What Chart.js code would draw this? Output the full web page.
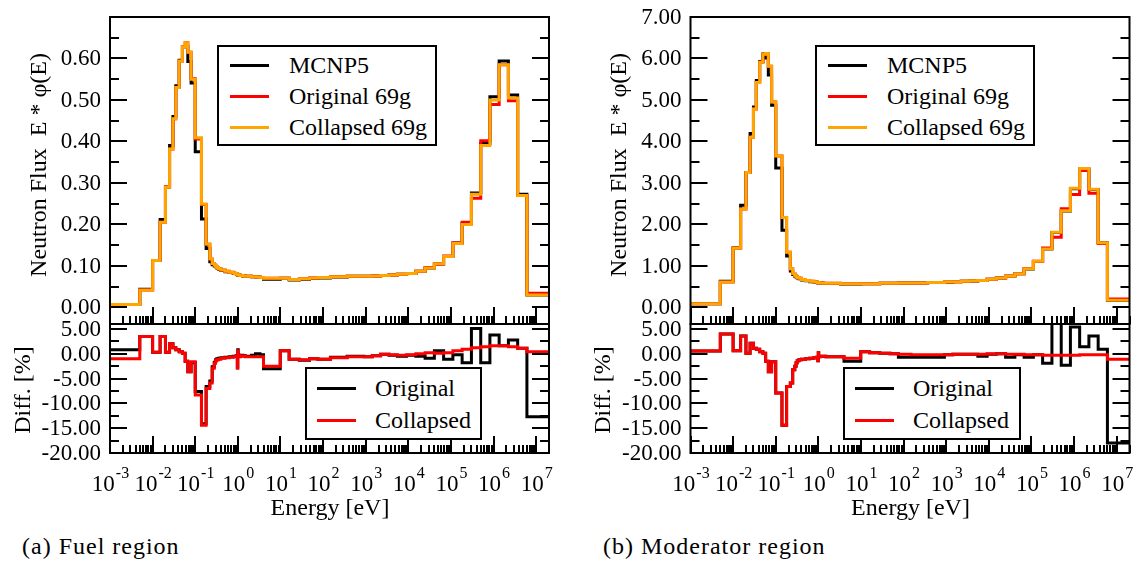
<!DOCTYPE html>
<html>
<head>
<meta charset="utf-8">
<script src="https://cdn.jsdelivr.net/npm/chart.js@4.4.0/dist/chart.umd.min.js"></script>
<style>
  body { margin: 0; background: #fff; }
  #fig { position: relative; width: 1137px; height: 563px; overflow: hidden; background: #fff;
         font-family: 'Liberation Serif', 'Times New Roman', serif; color: #000; }
  #fig canvas { position: absolute; }
  .txt { position: absolute; white-space: pre; font-size: 24px; line-height: 1; transform: translate(-50%, -50%); }
  .ytitle { transform: translate(-50%, -50%) rotate(-90deg); }
  .caption { position: absolute; white-space: pre; font-size: 24px; line-height: 1; transform: translateY(-50%); letter-spacing: 1px; }
  .legend { position: absolute; border: 2px solid #000; background: #fff; box-sizing: border-box; }
  .legend .ln { position: absolute; height: 3px; }
  .legend .lb { position: absolute; white-space: pre; font-size: 24px; line-height: 1; transform: translateY(-50%); }
</style>
</head>
<body>
<div id="fig"></div>
<script>
// WIMS-type 69 group boundaries [eV], top group carried out to the axis end
const energyEdges = [
  1e-5, 0.005, 0.01, 0.015, 0.02, 0.025, 0.03, 0.035, 0.042, 0.05,
  0.058, 0.067, 0.08, 0.1, 0.14, 0.18, 0.22, 0.25, 0.28, 0.3,
  0.32, 0.35, 0.4, 0.5, 0.625, 0.78, 0.85, 0.91, 0.95, 0.972,
  0.996, 1.02, 1.045, 1.071, 1.097, 1.123, 1.15, 1.3, 1.5, 2.1,
  2.6, 3.3, 4.0, 9.877, 15.968, 27.7, 48.052, 75.501, 148.73, 367.26,
  906.9, 1425.1, 2239.5, 3519.1, 5530, 9118, 1.503e4, 2.479e4, 4.085e4, 6.734e4,
  1.11e5, 1.83e5, 3.025e5, 5.0e5, 8.21e5, 1.353e6, 2.231e6, 3.679e6, 6.0655e6, 2.0e7
];

const seriesNames = ['MCNP5', 'Original 69g', 'Collapsed 69g'];
const seriesColors = ['#000000', '#ff0000', '#ffa500'];
const diffNames = ['Original', 'Collapsed'];
const diffColors = ['#000000', '#ff0000'];
const xDecades = [-3, -2, -1, 0, 1, 2, 3, 4, 5, 6, 7];

// fuel region, E*phi(E)
const fuelMCNP = [
  0.007, 0.0435, 0.113, 0.212, 0.291, 0.390, 0.460, 0.534, 0.596, 0.628,
  0.629, 0.593, 0.541, 0.375, 0.213, 0.142, 0.110, 0.103, 0.100, 0.098,
  0.095, 0.092, 0.089, 0.086, 0.084, 0.082, 0.082, 0.081, 0.080, 0.078,
  0.079, 0.079, 0.078, 0.078, 0.078, 0.077, 0.077, 0.076, 0.075, 0.074,
  0.073, 0.072, 0.068, 0.070, 0.066, 0.068, 0.070, 0.071, 0.073, 0.075,
  0.075, 0.076, 0.077, 0.078, 0.080, 0.082, 0.087, 0.095, 0.105, 0.123,
  0.155, 0.202, 0.276, 0.395, 0.508, 0.594, 0.512, 0.273, 0.030
];
const fuelOrig = [
  0.0069, 0.042, 0.113, 0.205, 0.290, 0.382, 0.455, 0.530, 0.594, 0.628,
  0.638, 0.615, 0.551, 0.406, 0.248, 0.152, 0.116, 0.106, 0.102, 0.099,
  0.096, 0.093, 0.090, 0.087, 0.085, 0.083, 0.082, 0.081, 0.080, 0.080,
  0.078, 0.079, 0.078, 0.078, 0.078, 0.077, 0.077, 0.076, 0.075, 0.074,
  0.073, 0.072, 0.070, 0.070, 0.067, 0.069, 0.071, 0.072, 0.074, 0.075,
  0.075, 0.076, 0.077, 0.078, 0.080, 0.082, 0.087, 0.096, 0.104, 0.124,
  0.155, 0.205, 0.263, 0.402, 0.489, 0.585, 0.498, 0.270, 0.034
];
const fuelColl = [
  0.007, 0.042, 0.113, 0.205, 0.290, 0.382, 0.455, 0.530, 0.594, 0.628,
  0.638, 0.615, 0.550, 0.409, 0.249, 0.153, 0.117, 0.106, 0.102, 0.099,
  0.096, 0.093, 0.090, 0.087, 0.085, 0.083, 0.082, 0.081, 0.080, 0.080,
  0.079, 0.079, 0.078, 0.078, 0.078, 0.077, 0.077, 0.076, 0.075, 0.074,
  0.073, 0.072, 0.070, 0.070, 0.067, 0.069, 0.071, 0.072, 0.074, 0.075,
  0.075, 0.076, 0.077, 0.078, 0.080, 0.082, 0.087, 0.095, 0.105, 0.123,
  0.154, 0.200, 0.273, 0.390, 0.500, 0.585, 0.505, 0.270, 0.030
];
// fuel region, relative difference to MCNP5 [%]
const fuelDiffOrig = [
  0.8, 3.5, 0.3, 3.5, 0.3, 2.0, 1.2, 0.8, 0.4, 0.1,
  -1.5, -3.6, -1.8, -7.6, -14.1, -6.6, -5.5, -2.6, -1.7, -1.2,
  -1.0, -0.9, -0.8, -0.7, -0.6, -0.5, -0.5, -0.4, -0.4, -2.7,
  0.8, -0.2, -0.3, -0.3, -0.4, -0.5, -0.3, -0.4, -0.5, -0.3,
  0.0, -0.2, -3.0, 0.6, -1.1, -1.3, -1.0, -1.1, -0.7, -0.5,
  -0.6, -0.4, -0.1, -0.3, -0.5, -0.3, -0.5, -0.9, 0.6, -1.1,
  -0.2, -1.8, 5.1, -1.8, 3.8, 1.6, 2.8, 1.1, -12.7
];
const fuelDiffColl = [
  -1.0, 3.5, 0.3, 3.5, 0.3, 2.0, 1.2, 0.8, 0.4, 0.1,
  -1.5, -3.6, -1.6, -8.3, -14.4, -7.0, -5.9, -2.9, -1.9, -1.4,
  -1.2, -1.1, -0.9, -0.8, -0.7, -0.6, -0.6, -0.5, -0.5, -2.9,
  0.6, -0.3, -0.4, -0.3, -0.5, -0.6, -0.4, -0.5, -0.6, -0.6,
  -0.6, -0.6, -2.5, 0.6, -1.1, -1.2, -1.0, -1.1, -0.8, -0.6,
  -0.6, -0.4, -0.1, -0.2, -0.3, -0.2, 0.0, 0.2, 0.1, 0.2,
  0.6, 0.9, 1.2, 1.4, 1.6, 1.6, 1.4, 1.1, 0.4
];

// moderator region, E*phi(E)
const modMCNP = [
  0.09, 0.63, 1.44, 2.46, 3.25, 4.19, 4.83, 5.47, 5.93, 6.11,
  6.01, 5.60, 4.87, 3.36, 1.86, 1.24, 0.875, 0.795, 0.75, 0.73,
  0.71, 0.69, 0.66, 0.64, 0.62, 0.615, 0.605, 0.605, 0.595, 0.59,
  0.60, 0.597, 0.587, 0.587, 0.587, 0.587, 0.587, 0.577, 0.577, 0.577,
  0.577, 0.567, 0.565, 0.572, 0.571, 0.58, 0.58, 0.589, 0.589, 0.599,
  0.609, 0.619, 0.629, 0.639, 0.649, 0.68, 0.71, 0.749, 0.809, 0.928,
  1.108, 1.406, 1.805, 2.323, 2.861, 3.343, 2.844, 1.557, 0.168
];
const modOrig = [
  0.09, 0.61, 1.43, 2.37, 3.25, 4.10, 4.78, 5.42, 5.91, 6.10,
  6.12, 5.81, 4.95, 3.65, 2.17, 1.33, 0.93, 0.82, 0.77, 0.74,
  0.72, 0.70, 0.67, 0.65, 0.63, 0.62, 0.61, 0.61, 0.60, 0.60,
  0.60, 0.60, 0.59, 0.59, 0.59, 0.59, 0.59, 0.58, 0.58, 0.58,
  0.58, 0.57, 0.57, 0.57, 0.57, 0.58, 0.58, 0.59, 0.59, 0.60,
  0.61, 0.62, 0.63, 0.64, 0.65, 0.68, 0.71, 0.754, 0.81, 0.935,
  1.11, 1.43, 1.69, 2.38, 2.72, 3.30, 2.75, 1.54, 0.205
];
const modColl = [
  0.09, 0.61, 1.43, 2.37, 3.25, 4.10, 4.78, 5.42, 5.91, 6.10,
  6.12, 5.81, 4.95, 3.65, 2.17, 1.33, 0.93, 0.82, 0.77, 0.74,
  0.72, 0.70, 0.67, 0.65, 0.63, 0.62, 0.61, 0.61, 0.60, 0.60,
  0.60, 0.60, 0.59, 0.59, 0.59, 0.59, 0.59, 0.58, 0.58, 0.58,
  0.58, 0.57, 0.57, 0.57, 0.57, 0.58, 0.58, 0.59, 0.59, 0.60,
  0.61, 0.62, 0.63, 0.64, 0.65, 0.68, 0.71, 0.75, 0.81, 0.93,
  1.11, 1.41, 1.81, 2.33, 2.87, 3.35, 2.85, 1.56, 0.17
];
// moderator region, relative difference to MCNP5 [%]
const modDiffOrig = [
  0.55, 4.0, 0.6, 3.6, 0.1, 2.1, 1.1, 0.9, 0.4, 0.1,
  -1.5, -3.6, -1.6, -7.9, -14.4, -6.6, -5.9, -3.2, -2.5, -1.8,
  -1.4, -1.2, -1.1, -1.0, -0.9, -0.8, -0.8, -0.7, -0.7, -1.4,
  0.2, -0.5, -0.5, -0.6, -0.5, -0.5, -0.5, -0.5, -0.6, -0.6,
  -0.6, -0.6, -1.5, 0.4, 0.2, 0.1, 0.0, -0.7, -0.7, -0.7,
  -0.2, -0.1, -0.1, -0.1, -0.5, -0.1, 0.0, -0.7, -0.2, -0.7,
  -0.2, -1.9, 7.0, -2.3, 5.4, 1.4, 3.6, 0.9, -18.0
];
const modDiffColl = [
  0.55, 4.0, 0.6, 3.6, 0.1, 2.1, 1.1, 0.9, 0.4, 0.1,
  -1.5, -3.6, -1.6, -7.9, -14.4, -6.6, -5.9, -3.2, -2.5, -1.8,
  -1.4, -1.2, -1.1, -1.0, -0.9, -0.8, -0.8, -0.7, -0.7, -1.4,
  0.2, -0.5, -0.5, -0.6, -0.5, -0.5, -0.5, -0.5, -0.6, -0.6,
  -0.6, -0.6, -0.9, 0.4, 0.2, 0.1, 0.0, -0.1, -0.2, -0.2,
  -0.2, -0.1, -0.1, -0.1, -0.1, 0.0, 0.0, -0.1, -0.1, -0.2,
  -0.2, -0.3, -0.3, -0.3, -0.3, -0.2, -0.2, -0.2, -1.1
];

const fig = document.getElementById('fig');
const TICK_FONT = '23px "Liberation Serif", serif';
const EXP_FONT = '16px "Liberation Serif", serif';

// group values -> histogram points (value i holds from edge i to edge i+1)
function steps(values) {
  const pts = values.map((v, i) => ({ x: energyEdges[i], y: v }));
  pts.push({ x: energyEdges[values.length], y: values[values.length - 1] });
  return pts;
}

function lineSet(values, color) {
  return {
    data: steps(values),
    borderColor: color,
    borderWidth: 3,
    stepped: 'before',
    pointRadius: 0,
    fill: false,
    borderJoinStyle: 'miter',
    borderCapStyle: 'butt',
  };
}

// box frame, inward ticks, numeric tick labels (grace-style axes)
const frameTicks = {
  id: 'frameTicks',
  afterDatasetsDraw(chart, args, opts) {
    const { ctx, chartArea: a } = chart;
    const xs = chart.scales.x;
    const ys = chart.scales.y;
    ctx.save();
    ctx.strokeStyle = '#000';
    ctx.fillStyle = '#000';
    ctx.lineWidth = 2;

    // y ticks on both sides
    ctx.font = TICK_FONT;
    ctx.textAlign = 'right';
    ctx.textBaseline = 'middle';
    const k0 = Math.ceil(ys.min / opts.yMinor - 1e-6);
    for (let k = k0; k * opts.yMinor <= ys.max + 1e-9; k++) {
      const v = k * opts.yMinor;
      const r = v / opts.yMajor;
      const major = Math.abs(r - Math.round(r)) < 1e-6;
      const len = major ? 17 : 9;
      const py = Math.round(ys.getPixelForValue(v));
      ctx.beginPath();
      ctx.moveTo(a.left, py); ctx.lineTo(a.left + len, py);
      ctx.moveTo(a.right, py); ctx.lineTo(a.right - len, py);
      ctx.stroke();
      if (major && v <= opts.yLabelMax + 1e-9) {
        ctx.fillText(v.toFixed(2), a.left - 9, py + 1);
      }
    }

    // x ticks along the bottom edge
    xDecades.forEach((e) => {
      for (let m = 1; m <= 9; m++) {
        const v = m * Math.pow(10, e);
        if (v > xs.max) break;
        const px = Math.round(xs.getPixelForValue(v));
        const len = m === 1 ? 17 : 8;
        ctx.beginPath();
        ctx.moveTo(px, a.bottom); ctx.lineTo(px, a.bottom - len);
        ctx.stroke();
      }
    });

    ctx.strokeRect(a.left, a.top, a.right - a.left, a.bottom - a.top);

    // decade labels 10^n
    if (opts.xLabels) {
      ctx.textAlign = 'left';
      ctx.textBaseline = 'alphabetic';
      xDecades.forEach((e) => {
        const px = xs.getPixelForValue(Math.pow(10, e));
        ctx.font = TICK_FONT;
        const wb = ctx.measureText('10').width;
        ctx.font = EXP_FONT;
        const we = ctx.measureText(String(e)).width;
        const x0 = px - (wb + we) / 2;
        ctx.font = TICK_FONT;
        ctx.fillText('10', x0, a.bottom + 38);
        ctx.font = EXP_FONT;
        ctx.fillText(String(e), x0 + wb + 1, a.bottom + 25);
      });
    }
    ctx.restore();
  },
};

function makeChart(pos, datasets, yRange, ticks) {
  const cv = document.createElement('canvas');
  cv.width = pos.w;
  cv.height = pos.h;
  cv.style.left = pos.left + 'px';
  cv.style.top = pos.top + 'px';
  fig.appendChild(cv);
  return new Chart(cv, {
    type: 'line',
    data: { datasets },
    options: {
      responsive: false,
      animation: false,
      events: [],
      layout: { padding: pos.pad },
      scales: {
        x: { type: 'logarithmic', min: 1e-3, max: 2e7, display: false },
        y: { type: 'linear', min: yRange[0], max: yRange[1], display: false },
      },
      plugins: {
        legend: { display: false },
        tooltip: { enabled: false },
        frameTicks: ticks,
      },
    },
    plugins: [frameTicks],
  });
}

function addText(cls, text, x, y) {
  const d = document.createElement('div');
  d.className = cls;
  d.textContent = text;
  d.style.left = x + 'px';
  d.style.top = y + 'px';
  fig.appendChild(d);
  return d;
}

function addLegend(box, names, colors, rows, lineX, lineW, textX) {
  const lg = document.createElement('div');
  lg.className = 'legend';
  lg.style.left = box[0] + 'px';
  lg.style.top = box[1] + 'px';
  lg.style.width = box[2] + 'px';
  lg.style.height = box[3] + 'px';
  names.forEach((name, i) => {
    const ln = document.createElement('div');
    ln.className = 'ln';
    ln.style.left = lineX + 'px';
    ln.style.width = lineW + 'px';
    ln.style.top = (rows[i] - 1.5) + 'px';
    ln.style.background = colors[i];
    lg.appendChild(ln);
    const lb = document.createElement('div');
    lb.className = 'lb';
    lb.style.left = textX + 'px';
    lb.style.top = rows[i] + 'px';
    lb.textContent = name;
    lg.appendChild(lb);
  });
  fig.appendChild(lg);
}

// one panel = flux plot on top, relative difference below
function panel(p) {
  makeChart(
    { left: p.left, top: 0, w: p.w, h: 330, pad: { left: p.padL, right: p.padR, top: 17, bottom: 6 } },
    [lineSet(p.coll, seriesColors[2]), lineSet(p.orig, seriesColors[1]), lineSet(p.mcnp, seriesColors[0])],
    p.fluxRange,
    { yMajor: p.fluxMajor, yMinor: p.fluxMajor / 2, yLabelMax: p.fluxLabelMax, xLabels: false }
  );
  makeChart(
    { left: p.left, top: 300, w: p.w, h: 200, pad: { left: p.padL, right: p.padR, top: 24, bottom: 47 } },
    [lineSet(p.dColl, diffColors[1]), lineSet(p.dOrig, diffColors[0])],
    [-20, 6],
    { yMajor: 5, yMinor: 2.5, yLabelMax: 5, xLabels: true }
  );
  addLegend(p.legTop, seriesNames, seriesColors, [18, 49, 80], 11, 39, 70);
  addLegend(p.legBot, diffNames, diffColors, [19, 51], 10, 39, 68);
  addText('txt ytitle', 'Neutron Flux  E * \u03c6(E)', p.left + p.yTitleX, 165);
  addText('txt ytitle', 'Diff. [%]', p.left + p.diffTitleX, 390);
  addText('txt', 'Energy [eV]', p.left + p.padL + 220, 507);
  addText('caption', p.caption, p.captionX, 546);
}

panel({
  left: 0, w: 568, padL: 110, padR: 19,
  mcnp: fuelMCNP, orig: fuelOrig, coll: fuelColl,
  dOrig: fuelDiffOrig, dColl: fuelDiffColl,
  fluxRange: [-0.04, 0.7], fluxMajor: 0.1, fluxLabelMax: 0.6,
  legTop: [217, 45, 220, 101], legBot: [305, 367, 177, 73],
  yTitleX: 38, diffTitleX: 22,
  caption: '(a) Fuel region', captionX: 22,
});

panel({
  left: 580, w: 557, padL: 110.5, padR: 7.5,
  mcnp: modMCNP, orig: modOrig, coll: modColl,
  dOrig: modDiffOrig, dColl: modDiffColl,
  fluxRange: [-0.4, 7], fluxMajor: 1, fluxLabelMax: 7,
  legTop: [815, 45, 220, 101], legBot: [843, 367, 178, 73],
  yTitleX: 38, diffTitleX: 22,
  caption: '(b) Moderator region', captionX: 603,
});
</script>
</body>
</html>
